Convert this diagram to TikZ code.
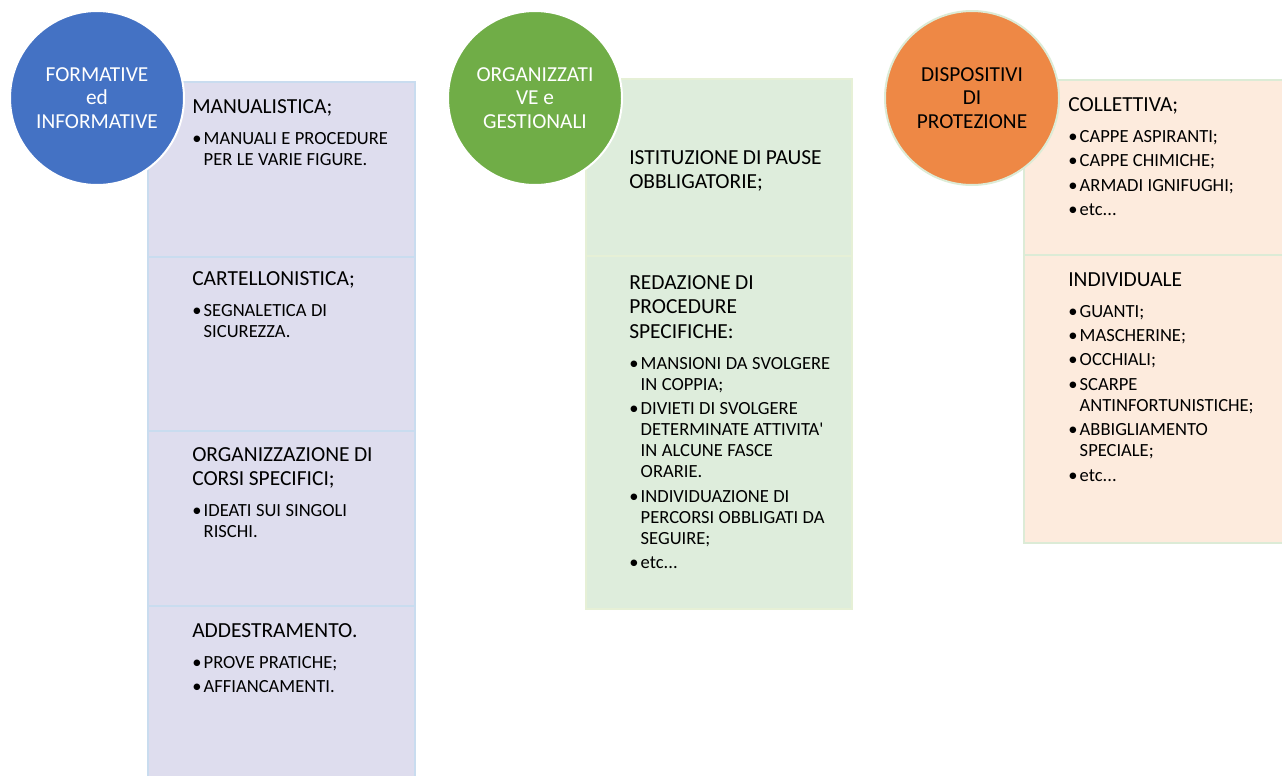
\documentclass[tikz,border=0pt]{standalone}
\usepackage{fontspec}
\setmainfont{Carlito}
\definecolor{circBlue}{HTML}{4472C4}
\definecolor{circGreen}{HTML}{70AD47}
\definecolor{circOrange}{HTML}{EE8845}
\definecolor{fillLav}{HTML}{DEDDEE}
\definecolor{lineLav}{HTML}{C9DCEF}
\definecolor{fillMint}{HTML}{DEEDDC}
\definecolor{lineMint}{HTML}{E6F0D6}
\definecolor{fillPeach}{HTML}{FDEBDD}
\definecolor{linePeach}{HTML}{DCEBD6}
% heading and bullet paragraphs
\newcommand{\hd}[1]{{\fontsize{16.1}{18.4}\selectfont\noindent #1\par}\vspace{7.5pt}}
\newcommand{\bl}[1]{{\fontsize{13.9}{15.75}\selectfont\hangindent=8.6pt\hangafter=1\noindent\makebox[8.6pt][l]{\textbullet}#1\par}\vspace{2.6pt}}
\begin{document}
\begin{tikzpicture}[x=0.75pt,y=-0.75pt,
    cat/.style={circle, minimum size=130.5pt, inner sep=0pt, line width=1.5pt,
      align=center, font=\fontsize{16}{17.6}\selectfont},
    sec/.style={anchor=north west, inner sep=0pt, text width=175pt, align=left},
    lav/.style={fill=fillLav, draw=lineLav, line width=1pt},
    mint/.style={fill=fillMint, draw=lineMint, line width=1pt},
    peach/.style={fill=fillPeach, draw=linePeach, line width=1pt}]
  \useasboundingbox (0,0) rectangle (1282,775);

  % boxes
  \draw[lav] (148,82) rectangle (415,257);
  \draw[lav] (148,257) rectangle (415,431);
  \draw[lav] (148,431) rectangle (415,606);
  \draw[lav] (148,606) rectangle (415,785);

  \draw[mint] (586,79) rectangle (852,256);
  \draw[mint] (586,256) rectangle (852,609);

  \draw[peach] (1024,80) rectangle (1292,255);
  \draw[peach] (1024,255) rectangle (1292,543);

  % circles
  \node[cat, fill=circBlue, draw=white, text=white] (form) at (97,98)
    {FORMATIVE\\ed\\INFORMATIVE};
  \node[cat, fill=circGreen, draw=white, text=white] (org) at (535,98)
    {ORGANIZZATI\\VE e\\GESTIONALI};
  \node[cat, fill=circOrange, draw=linePeach, text=black] (disp) at (972,98)
    {DISPOSITIVI\\DI\\PROTEZIONE};

  % formative ed informative
  \node[sec] (manual) at (192,99)
    {\hd{MANUALISTICA;}\bl{MANUALI E PROCEDURE\newline PER LE VARIE FIGURE.}};
  \node[sec] (cartel) at (192,271)
    {\hd{CARTELLONISTICA;}\bl{SEGNALETICA DI\newline SICUREZZA.}};
  \node[sec] (corsi) at (192,447)
    {\hd{ORGANIZZAZIONE DI\newline CORSI SPECIFICI;}\bl{IDEATI SUI SINGOLI\newline RISCHI.}};
  \node[sec] (addestr) at (192,623)
    {\hd{ADDESTRAMENTO.}\bl{PROVE PRATICHE;}\bl{AFFIANCAMENTI.}};

  % organizzative e gestionali
  \node[sec] (pause) at (629,150)
    {\hd{ISTITUZIONE DI PAUSE\newline OBBLIGATORIE;}};
  \node[sec] (proced) at (629,275)
    {\hd{REDAZIONE DI\newline PROCEDURE\newline SPECIFICHE:}%
     \bl{MANSIONI DA SVOLGERE\newline IN COPPIA;}%
     \bl{DIVIETI DI SVOLGERE\newline DETERMINATE ATTIVITA\textquotesingle\newline IN ALCUNE FASCE\newline ORARIE.}%
     \bl{INDIVIDUAZIONE DI\newline PERCORSI OBBLIGATI DA\newline SEGUIRE;}%
     \bl{etc...}};

  % dispositivi di protezione
  \node[sec] (collett) at (1068,97)
    {\hd{COLLETTIVA;}\bl{CAPPE ASPIRANTI;}\bl{CAPPE CHIMICHE;}\bl{ARMADI IGNIFUGHI;}\bl{etc...}};
  \node[sec] (indiv) at (1068,272)
    {\hd{INDIVIDUALE}\bl{GUANTI;}\bl{MASCHERINE;}\bl{OCCHIALI;}%
     \bl{SCARPE\newline ANTINFORTUNISTICHE;}\bl{ABBIGLIAMENTO\newline SPECIALE;}\bl{etc...}};
\end{tikzpicture}
\end{document}
